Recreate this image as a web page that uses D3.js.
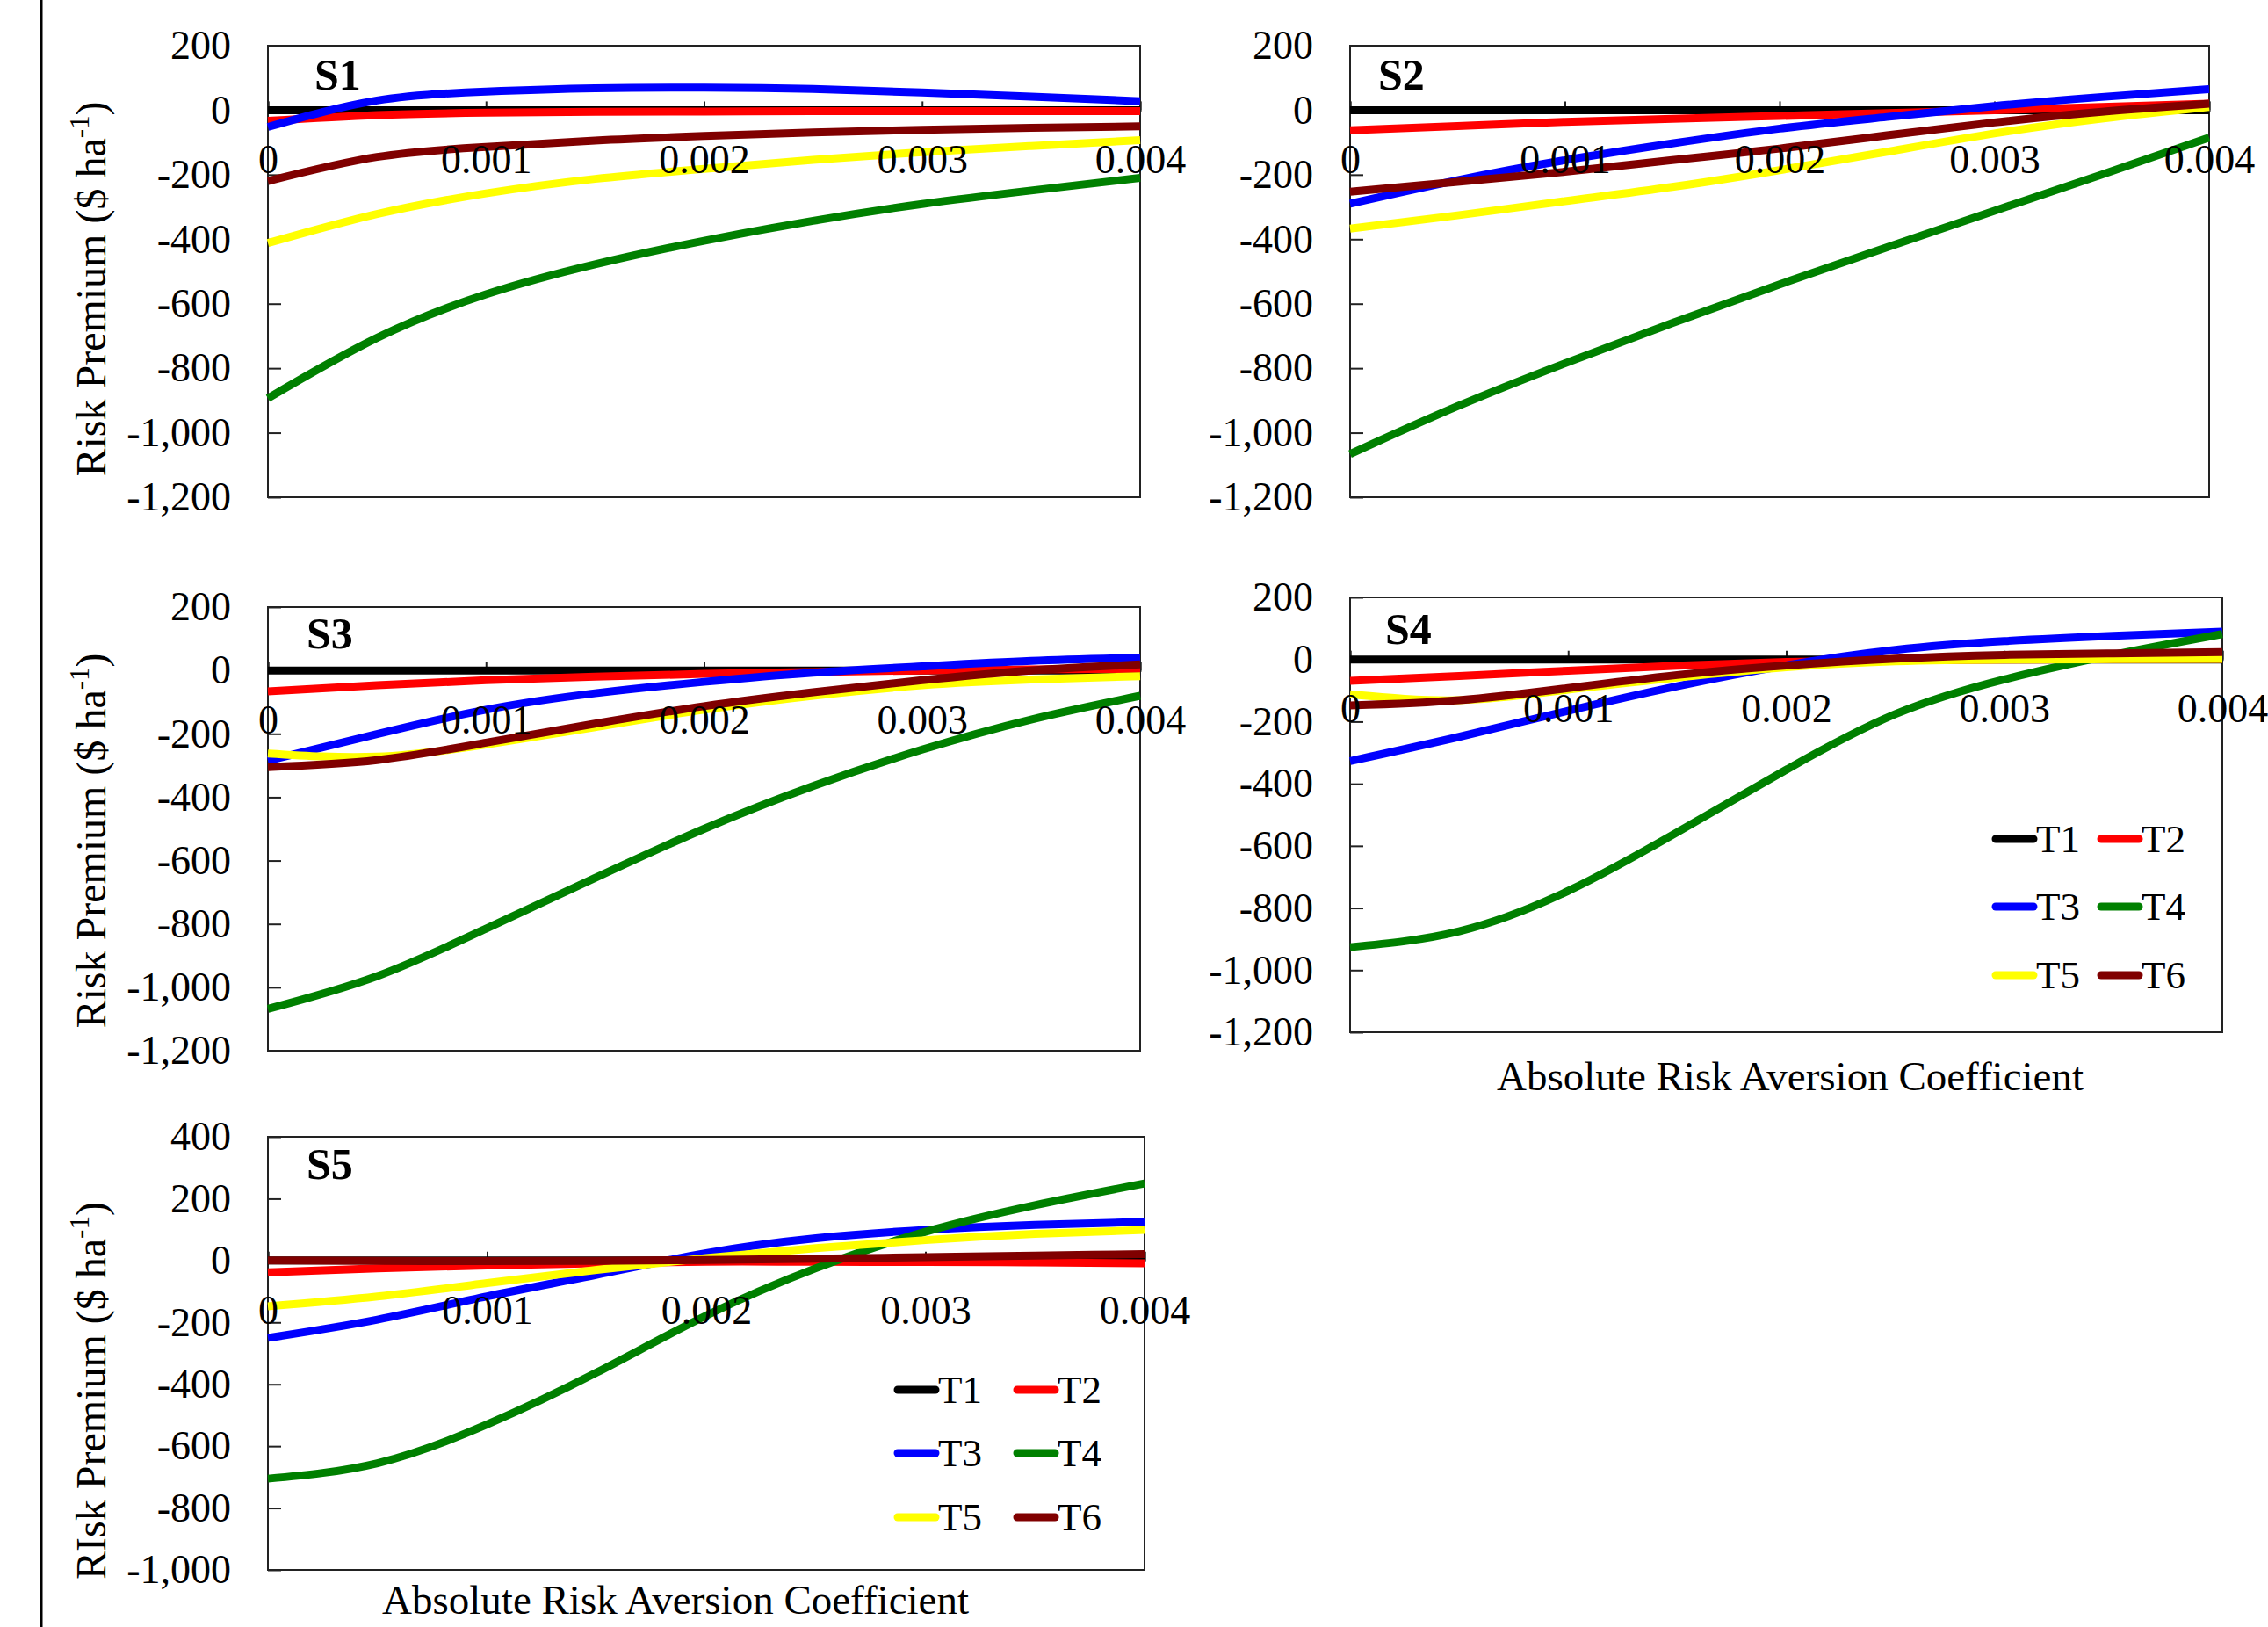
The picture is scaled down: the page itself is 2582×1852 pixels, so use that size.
<!DOCTYPE html>
<html>
<head>
<meta charset="utf-8">
<script src="https://cdn.jsdelivr.net/npm/d3@7"></script>
<style>
  body { margin: 0; background: #fff; }
  text { font-family: "Liberation Serif", "Times New Roman", serif; }
</style>
</head>
<body>
<div id="chart"></div>
<script>
// absolute risk aversion coefficient (x values)
const coefficients = [0, 0.0005, 0.001, 0.0015, 0.002, 0.0025, 0.003, 0.0035, 0.004];
const xTickValues = [0, 0.001, 0.002, 0.003, 0.004];
const xTickLabels = ["0", "0.001", "0.002", "0.003", "0.004"];

const treatments = ["T1", "T2", "T3", "T4", "T5", "T6"];
const treatmentColors = ["#000000", "#ff0000", "#0000ff", "#008000", "#ffff00", "#800000"];

// S1 risk premium ($/ha)
const s1T1 = [0, 0, 0, 0, 0, 0, 0, 0, 0];
const s1T2 = [-33, -15, -8, -5, -4, -3, -3, -3, -3];
const s1T3 = [-52, 30, 58, 68, 70, 66, 55, 42, 28];
const s1T4 = [-893, -706, -571, -478, -405, -343, -291, -249, -210];
const s1T5 = [-412, -322, -258, -213, -182, -154, -130, -111, -93];
const s1T6 = [-220, -145, -114, -94, -80, -69, -61, -55, -50];

// S2
const s2T1 = [0, 0, 0, 0, 0, 0, 0, 0, 0];
const s2T2 = [-62, -49, -36, -27, -18, -9, 0, 10, 20];
const s2T3 = [-290, -217, -155, -103, -57, -21, 13, 41, 65];
const s2T4 = [-1066, -918, -785, -660, -540, -425, -312, -200, -85];
const s2T5 = [-367, -326, -282, -238, -186, -129, -72, -26, 10];
const s2T6 = [-253, -222, -191, -155, -119, -78, -38, -5, 20];

// S3
const s3T1 = [0, 0, 0, 0, 0, 0, 0, 0, 0];
const s3T2 = [-66, -47, -31, -20, -11, -5, 0, 3, 5];
const s3T3 = [-285, -201, -124, -72, -36, -7, 13, 30, 40];
const s3T4 = [-1068, -965, -815, -655, -500, -365, -250, -155, -80];
const s3T5 = [-262, -272, -234, -179, -124, -80, -47, -29, -18];
const s3T6 = [-305, -283, -228, -168, -113, -69, -31, 0, 19];

// S4
const s4T1 = [0, 0, 0, 0, 0, 0, 0, 0, 0];
const s4T2 = [-69, -53, -36, -20, -8, -2, 0, 1, 2];
const s4T3 = [-327, -249, -165, -86, -19, 31, 59, 76, 90];
const s4T4 = [-926, -875, -745, -556, -355, -176, -64, 15, 82];
const s4T5 = [-112, -131, -97, -58, -25, -6, 0, 1, 2];
const s4T6 = [-148, -131, -92, -50, -19, 3, 15, 20, 24];

// S5
const s5T1 = [0, 0, 0, 0, 0, 0, 0, 0, 0];
const s5T2 = [-38, -25, -16, -9, -4, -4, -5, -6, -9];
const s5T3 = [-250, -191, -116, -46, 24, 72, 99, 115, 125];
const s5T4 = [-705, -655, -530, -362, -178, -25, 93, 179, 249];
const s5T5 = [-148, -116, -73, -30, 8, 40, 66, 86, 99];
const s5T6 = [0, -1, -2, -1, 2, 6, 11, 16, 21];

// y tick values
const yTicksMain = [-1200, -1000, -800, -600, -400, -200, 0, 200];
const yTicksS5 = [-1000, -800, -600, -400, -200, 0, 200, 400];

const width = 2582;
const height = 1852;

const svg = d3.select("#chart").append("svg")
  .attr("width", width)
  .attr("height", height);

svg.append("rect").attr("width", width).attr("height", height).attr("fill", "#fff");

// page border line on the left
svg.append("line")
  .attr("x1", 47).attr("x2", 47)
  .attr("y1", 0).attr("y2", height)
  .attr("stroke", "#000").attr("stroke-width", 3);

const numFormat = d3.formatLocale({
  decimal: ".", thousands: ",", grouping: [3], currency: ["$", ""], minus: "-"
}).format(",");

const fontFamily = "'Liberation Serif', 'Times New Roman', serif";

// panel layout
const panels = [
  { name: "S1", series: [s1T1, s1T2, s1T3, s1T4, s1T5, s1T6],
    left: 305, right: 1298, top: 52, bottom: 566, yDomain: [-1200, 200], yTicks: yTicksMain,
    labelX: 358, labelY: 102, yTitle: "Risk", yTitleY: 329 },
  { name: "S2", series: [s2T1, s2T2, s2T3, s2T4, s2T5, s2T6],
    left: 1537, right: 2515, top: 52, bottom: 566, yDomain: [-1200, 200], yTicks: yTicksMain,
    labelX: 1569, labelY: 102 },
  { name: "S3", series: [s3T1, s3T2, s3T3, s3T4, s3T5, s3T6],
    left: 305, right: 1298, top: 691, bottom: 1196, yDomain: [-1200, 200], yTicks: yTicksMain,
    labelX: 349, labelY: 738, yTitle: "Risk", yTitleY: 957 },
  { name: "S4", series: [s4T1, s4T2, s4T3, s4T4, s4T5, s4T6],
    left: 1537, right: 2530, top: 680, bottom: 1175, yDomain: [-1200, 200], yTicks: yTicksMain,
    labelX: 1577, labelY: 733,
    xTitleX: 2038, xTitleY: 1241,
    legendCols: [2272, 2392], legendRows: [955, 1032, 1110] },
  { name: "S5", series: [s5T1, s5T2, s5T3, s5T4, s5T5, s5T6],
    left: 305, right: 1303, top: 1294, bottom: 1787, yDomain: [-1000, 400], yTicks: yTicksS5,
    labelX: 349, labelY: 1342, yTitle: "RIsk", yTitleY: 1583,
    xTitleX: 769, xTitleY: 1837,
    legendCols: [1022, 1158], legendRows: [1582, 1654, 1727] }
];

panels.forEach(p => {
  const x = d3.scaleLinear().domain([0, 0.004]).range([p.left, p.right]);
  const y = d3.scaleLinear().domain(p.yDomain).range([p.bottom, p.top]);

  const g = svg.append("g");

  // frame
  g.append("rect")
    .attr("x", p.left).attr("y", p.top)
    .attr("width", p.right - p.left).attr("height", p.bottom - p.top)
    .attr("fill", "none").attr("stroke", "#222").attr("stroke-width", 2);

  // y axis, ticks pointing inward
  const yAxis = d3.axisLeft(y)
    .tickValues(p.yTicks)
    .tickSize(-15)
    .tickPadding(42)
    .tickFormat(numFormat);

  g.append("g")
    .attr("transform", `translate(${p.left},0)`)
    .call(yAxis)
    .call(a => a.select(".domain").remove())
    .call(a => a.selectAll("line").attr("stroke", "#222").attr("stroke-width", 2))
    .call(a => a.selectAll("text")
      .attr("font-size", 46)
      .attr("font-family", fontFamily)
      .attr("fill", "#000"));

  // x axis line + ticks along zero
  const xAxisLine = d3.axisBottom(x)
    .tickValues(xTickValues)
    .tickSize(-10)
    .tickFormat("");

  g.append("g")
    .attr("transform", `translate(0,${y(0)})`)
    .call(xAxisLine)
    .call(a => a.selectAll("line, path").attr("stroke", "#222").attr("stroke-width", 2));

  // series, smoothed like the original chart
  const line = d3.line()
    .x((d, i) => x(coefficients[i]))
    .y(d => y(d))
    .curve(d3.curveNatural);

  p.series.forEach((s, i) => {
    g.append("path")
      .datum(s)
      .attr("d", line)
      .attr("fill", "none")
      .attr("stroke", treatmentColors[i])
      .attr("stroke-width", 9)
      .attr("stroke-linejoin", "round");
  });

  // x tick labels drawn over the lines
  const xAxisLabels = d3.axisBottom(x)
    .tickValues(xTickValues)
    .tickSize(0)
    .tickPadding(39)
    .tickFormat((d, i) => xTickLabels[i]);

  g.append("g")
    .attr("transform", `translate(0,${y(0)})`)
    .call(xAxisLabels)
    .call(a => a.select(".domain").remove())
    .call(a => a.selectAll("line").remove())
    .call(a => a.selectAll("text")
      .attr("font-size", 46)
      .attr("font-family", fontFamily)
      .attr("fill", "#000"));

  // panel label
  g.append("text")
    .attr("x", p.labelX).attr("y", p.labelY)
    .attr("font-size", 50)
    .attr("font-weight", "bold")
    .text(p.name);

  // y title
  if (p.yTitle) {
    const t = g.append("text")
      .attr("transform", `translate(120,${p.yTitleY}) rotate(-90)`)
      .attr("text-anchor", "middle")
      .attr("font-size", 48);
    t.append("tspan").text(p.yTitle + " Premium ($ ha");
    t.append("tspan").attr("font-size", 31).attr("dy", -19).text("-1");
    t.append("tspan").attr("dy", 19).text(")");
  }

  // x title
  if (p.xTitleX) {
    g.append("text")
      .attr("x", p.xTitleX).attr("y", p.xTitleY)
      .attr("text-anchor", "middle")
      .attr("font-size", 47)
      .text("Absolute Risk Aversion Coefficient");
  }

  // legend, 3 rows x 2 columns
  if (p.legendCols) {
    treatments.forEach((name, i) => {
      const lx = p.legendCols[i % 2];
      const ly = p.legendRows[Math.floor(i / 2)];
      g.append("line")
        .attr("x1", lx).attr("x2", lx + 43)
        .attr("y1", ly).attr("y2", ly)
        .attr("stroke", treatmentColors[i])
        .attr("stroke-width", 9)
        .attr("stroke-linecap", "round");
      g.append("text")
        .attr("x", lx + 46).attr("y", ly + 15)
        .attr("font-size", 45)
        .text(name);
    });
  }
});
</script>
</body>
</html>
